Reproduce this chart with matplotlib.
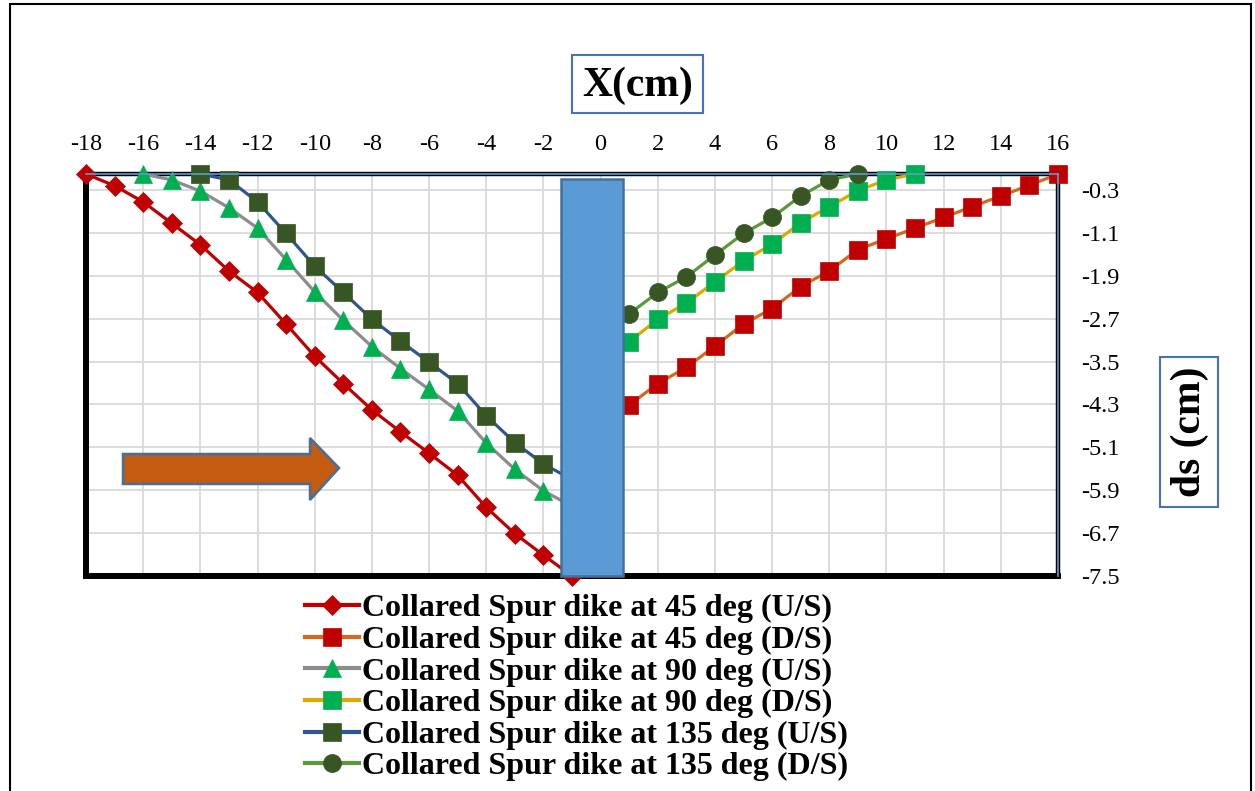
import matplotlib
matplotlib.use("Agg")
import matplotlib.pyplot as plt
from matplotlib.patches import Rectangle, Polygon
import numpy as np

# ---------------- data ----------------
x_us_45 = [-18, -17, -16, -15, -14, -13, -12, -11, -10, -9, -8, -7, -6, -5, -4, -3, -2, -1]
ds_us_45 = [0.0, -0.22, -0.52, -0.92, -1.32, -1.81, -2.21, -2.80, -3.40, -3.91, -4.40, -4.81,
            -5.21, -5.62, -6.22, -6.71, -7.11, -7.50]

x_ds_45 = [1, 2, 3, 4, 5, 6, 7, 8, 9, 10, 11, 12, 13, 14, 15, 16]
ds_ds_45 = [-4.31, -3.91, -3.61, -3.21, -2.80, -2.51, -2.10, -1.81, -1.41, -1.21, -1.01,
            -0.81, -0.61, -0.41, -0.21, 0.0]

x_us_90 = [-16, -15, -14, -13, -12, -11, -10, -9, -8, -7, -6, -5, -4, -3, -2, -1]
ds_us_90 = [0.0, -0.11, -0.32, -0.63, -1.01, -1.60, -2.20, -2.73, -3.22, -3.63, -4.02,
            -4.42, -5.02, -5.51, -5.91, -6.20]

x_ds_90 = [1, 2, 3, 4, 5, 6, 7, 8, 9, 10, 11]
ds_ds_90 = [-3.13, -2.71, -2.41, -2.01, -1.62, -1.31, -0.91, -0.61, -0.31, -0.11, 0.0]

x_us_135 = [-14, -13, -12, -11, -10, -9, -8, -7, -6, -5, -4, -3, -2, -1]
ds_us_135 = [0.0, -0.11, -0.52, -1.11, -1.72, -2.21, -2.71, -3.12, -3.51, -3.91, -4.51,
             -5.01, -5.41, -5.70]

x_ds_135 = [1, 2, 3, 4, 5, 6, 7, 8, 9]
ds_ds_135 = [-2.61, -2.21, -1.92, -1.51, -1.11, -0.81, -0.41, -0.11, 0.0]

labels = ["Collared Spur dike at 45 deg (U/S)",
          "Collared Spur dike at 45 deg (D/S)",
          "Collared Spur dike at 90 deg (U/S)",
          "Collared Spur dike at 90 deg (D/S)",
          "Collared Spur dike at 135 deg (U/S)",
          "Collared Spur dike at 135 deg (D/S)"]

x_ticks = list(range(-18, 17, 2))
y_ticks = [-7.5, -6.7, -5.9, -5.1, -4.3, -3.5, -2.7, -1.9, -1.1, -0.3]
y_tick_labels = ["-7.5", "-6.7", "-5.9", "-5.1", "-4.3", "-3.5", "-2.7", "-1.9", "-1.1", "-0.3"]

# spur dike (blue block) extent in data units
dike_x0, dike_x1 = -1.385, 0.78
dike_y0, dike_y1 = -7.5, -0.1

# ---------------- figure ----------------
W, H = 1255, 791
plt.rcParams["axes.unicode_minus"] = False
fig = plt.figure(figsize=(W / 100, H / 100), dpi=100)
serif = ["Liberation Serif", "DejaVu Serif"]
plt.rcParams["font.family"] = serif

def fx(px):
    return px / W

def fy(py):
    return 1 - py / H

ax = fig.add_axes([fx(86), fy(576), fx(1058) - fx(86), fy(174) - fy(576)])
ax.set_xlim(-18, 16)
ax.set_ylim(-7.5, 0)

series = [
    (x_us_45, ds_us_45, "#C00000", "D", "#C00000", 10.5),
    (x_ds_45, ds_ds_45, "#D2691E", "s", "#C00000", 12.5),
    (x_us_90, ds_us_90, "#8C8C8C", "^", "#00B050", 13),
    (x_ds_90, ds_ds_90, "#E0A800", "s", "#00B050", 12.5),
    (x_us_135, ds_us_135, "#2F5597", "s", "#375623", 12.5),
    (x_ds_135, ds_ds_135, "#5B9A3A", "o", "#375623", 13),
]
handles = []
for (xs, ys, lc, mk, mc, ms), lab in zip(series, labels):
    h, = ax.plot(xs, ys, color=lc, lw=2.3, marker=mk, markersize=ms,
                 markerfacecolor=mc, markeredgecolor=mc, markeredgewidth=0.5,
                 clip_on=False, zorder=4, label=lab)
    handles.append(h)

# grid
ax.set_xticks(x_ticks)
ax.set_xticklabels([str(v) for v in x_ticks])
ax.set_yticks(y_ticks)
ax.set_yticklabels(y_tick_labels)
ax.grid(True, color="#D9D9D9", lw=1.3, zorder=0)
ax.set_axisbelow(True)

ax.xaxis.tick_top()
ax.yaxis.tick_right()
ax.tick_params(axis="x", length=0, pad=14, labelsize=17.5)
ax.tick_params(axis="y", length=0, pad=17, labelsize=17.5)

for s in ["left", "bottom"]:
    ax.spines[s].set_linewidth(4.3)
    ax.spines[s].set_color("black")
for s in ["top", "right"]:
    ax.spines[s].set_linewidth(3.2)
    ax.spines[s].set_color("black")
ax.axhline(0, color="#5B9BD5", lw=1.2, zorder=6, clip_on=False)
ax.axvline(16, color="#5B9BD5", lw=1.2, zorder=6, clip_on=False)

# spur dike block
ax.add_patch(Rectangle((dike_x0, dike_y0), dike_x1 - dike_x0, dike_y1 - dike_y0,
                       facecolor="#5B9BD5", edgecolor="#41719C", lw=1.8,
                       zorder=5, clip_on=False))

# flow arrow (figure pixel geometry)
arrow_px = [(123, 454), (310, 454), (310, 438), (339, 468), (310, 500), (310, 484), (123, 484)]
fig.patches.append(Polygon([(fx(a), fy(b)) for a, b in arrow_px], closed=True,
                           facecolor="#C55A11", edgecolor="#41719C", lw=1.8,
                           transform=fig.transFigure, figure=fig, zorder=10))

# axis title boxes
fig.patches.append(Rectangle((fx(572), fy(113)), fx(703) - fx(572), fy(55) - fy(113),
                             facecolor="white", edgecolor="#4472C4", lw=1.5,
                             transform=fig.transFigure, figure=fig))
fig.text(fx(638), fy(86), "X(cm)", ha="center", va="center", fontsize=30,
         fontweight="bold", family=serif)

fig.patches.append(Rectangle((fx(1160), fy(507)), fx(1218) - fx(1160), fy(357) - fy(507),
                             facecolor="white", edgecolor="#4472C4", lw=1.5,
                             transform=fig.transFigure, figure=fig))
fig.text(fx(1190), fy(432), "ds (cm)", ha="center", va="center", fontsize=30,
         fontweight="bold", rotation=90, family=serif)

# outer frame
fig.patches.append(Rectangle((fx(10), fy(800)), fx(1251) - fx(10), fy(4) - fy(800),
                             facecolor="none", edgecolor="black", lw=1.5,
                             transform=fig.transFigure, figure=fig))

leg = fig.legend(handles=handles, loc="upper left",
                 bbox_to_anchor=(fx(305), fy(594)), frameon=False,
                 prop={"family": serif, "weight": "bold", "size": 23},
                 handlelength=1.7, handletextpad=0.1, labelspacing=0.07,
                 borderpad=0, borderaxespad=0)
for ln in leg.get_lines():
    ln.set_linewidth(3.0)

fig.savefig("out.png", dpi=100)
